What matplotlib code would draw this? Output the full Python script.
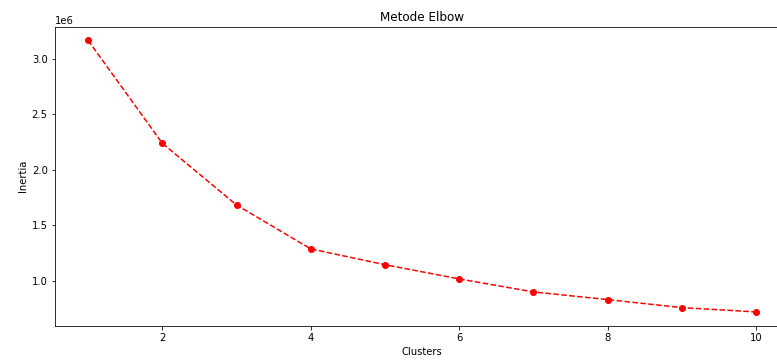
import matplotlib
matplotlib.use("Agg")
import matplotlib.pyplot as plt

clusters = [1, 2, 3, 4, 5, 6, 7, 8, 9, 10]
inertia = [3.165e6, 2.239e6, 1.684e6, 1.289e6, 1.147e6,
           1.019e6, 0.902e6, 0.833e6, 0.761e6, 0.722e6]


def main():
    fig = plt.figure(figsize=(777 / 72, 361 / 72), dpi=72)
    # the original image is cut off on the right, so the axes run past the edge
    ax = fig.add_axes([0.0704, 0.0983, 0.9456, 0.8275])
    ax.plot(clusters, inertia, 'ro--')
    ax.set_title("Metode Elbow")
    ax.set_xlabel("Clusters")
    ax.set_ylabel("Inertia")
    fig.savefig("out.png", dpi=72)
    plt.close(fig)


if __name__ == "__main__":
    main()
